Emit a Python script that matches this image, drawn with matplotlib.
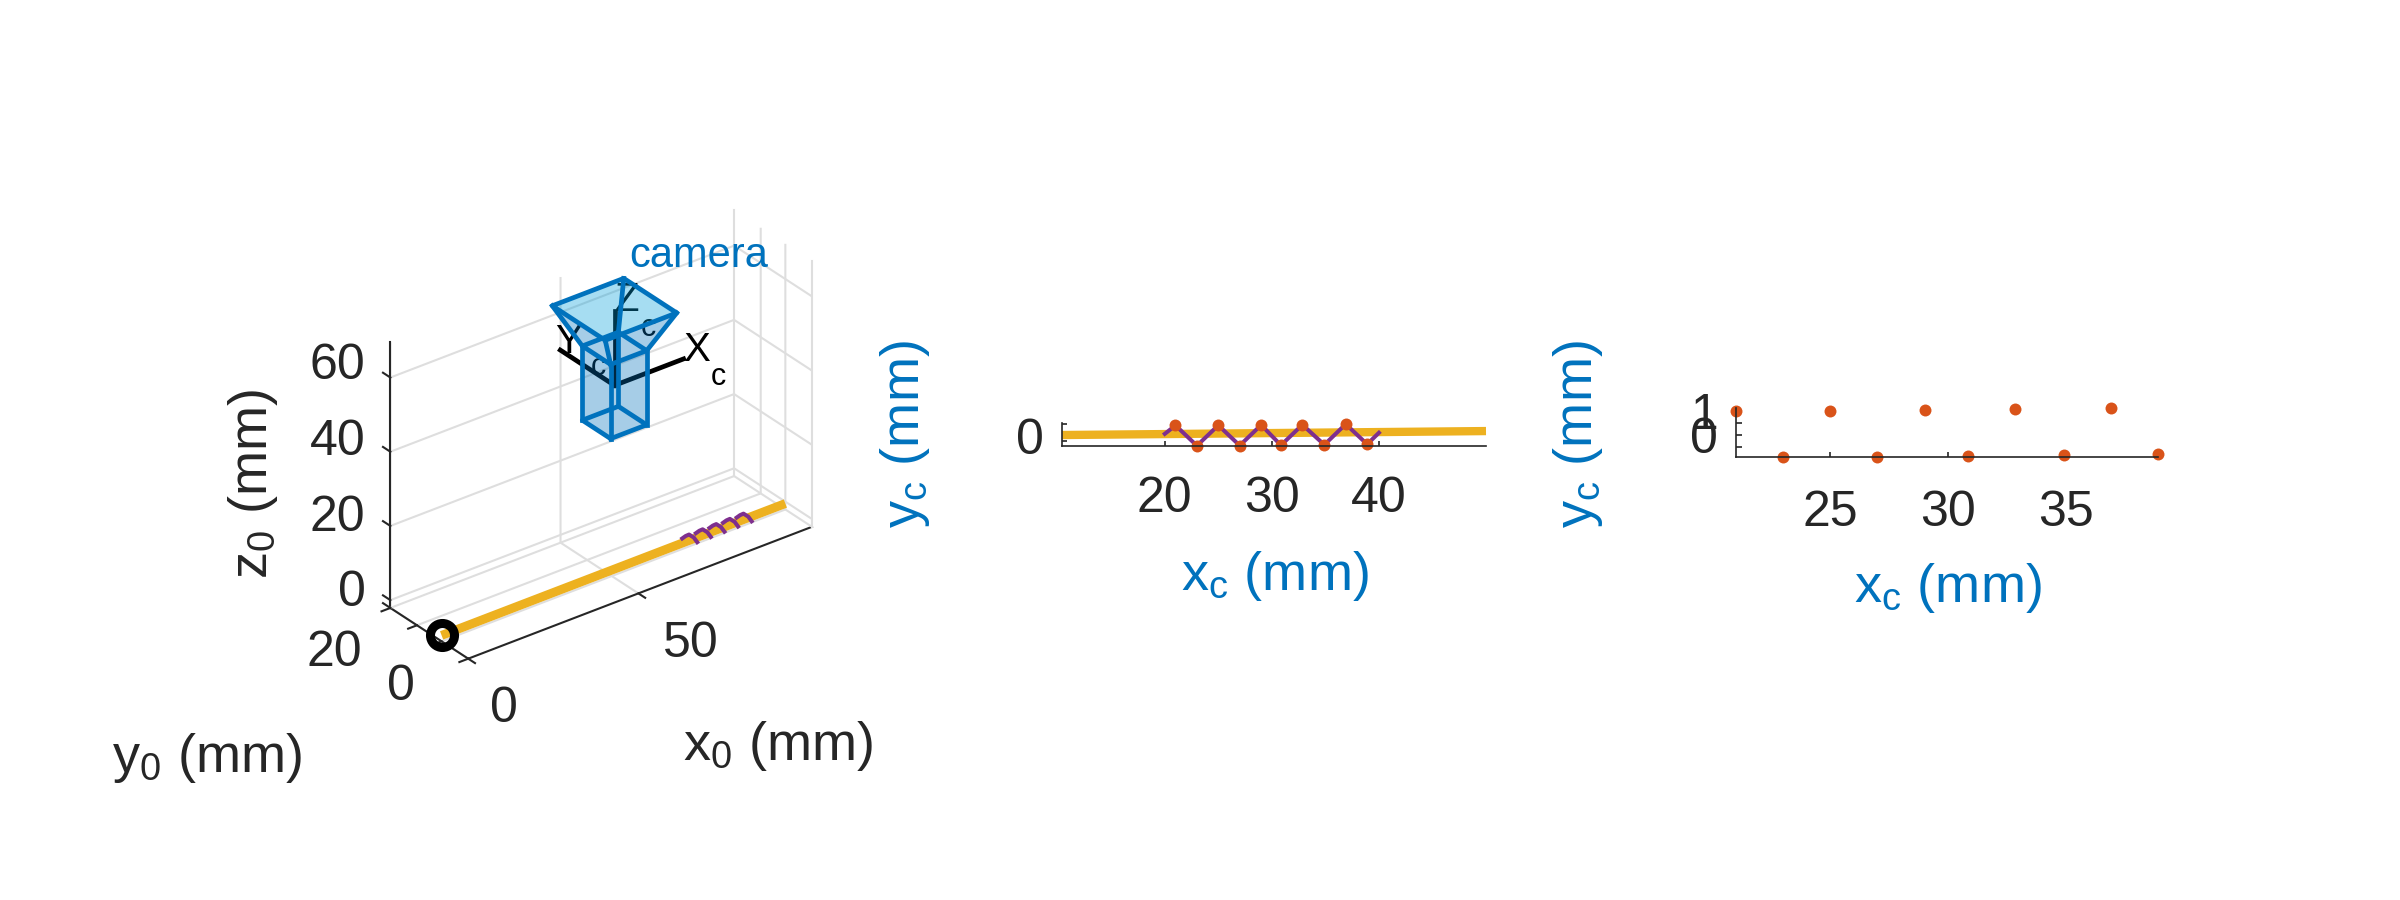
import numpy as np
import matplotlib
matplotlib.use('Agg')
import matplotlib.pyplot as plt
from mpl_toolkits.mplot3d.art3d import Poly3DCollection

plt.rcParams['font.family'] = ['Liberation Sans', 'DejaVu Sans']
plt.rcParams['mathtext.fontset'] = 'custom'
plt.rcParams['mathtext.rm'] = 'Liberation Sans'
plt.rcParams['mathtext.it'] = 'Liberation Sans'

BLUE = '#0072BD'
YELLOW = '#EDB120'
PURPLE = '#7E2F8E'
ORANGE = '#D95319'
DARK = '#262626'
GRID = '#DEDEDE'
W, H = 2400, 900

# straight line in the world frame and in the camera frame
line_x0 = [0, 101]
line_y0 = [0, 0]
line_z0 = [-0.5, -0.5]
line_xc = [10.4, 50]
line_yc = [0.09, 0.46]

# visible arcs of the helix round the line, world frame
helix_x0 = [[70.7, 71.7, 72.7, 74.1, 75.1],
            [74.7, 75.7, 76.7, 78.1, 79.1],
            [78.7, 79.7, 80.7, 82.1, 83.1],
            [82.7, 83.7, 84.7, 86.1, 87.1],
            [86.7, 87.7, 88.7, 90.1, 91.1]]
helix_z0 = [0.75, 1.05, 1.1, -0.2, -1.8]

# zigzag and its sampled points in the camera frame
zig_xc = [20, 21.0, 23.0, 25.0, 27.0, 29.0, 30.85, 32.85, 34.9, 36.9, 38.9, 40]
zig_yc = [0.2, 0.99, -0.905, 1.0, -0.89, 1.03, -0.865, 1.05, -0.82, 1.11, -0.77, 0.3]
pts_xc = zig_xc[1:-1]
pts_yc = zig_yc[1:-1]

# camera, world frame
body_x = [45.5, 56.1]
body_y = [-11.5, 11.5]
body_z = [39, 59]
top_x = [40.3, 61.3]
top_y = [-21.5, 21.5]
top_z = 69.5
frame_origin = [50.8, 0, 49]
frame_x_end = 71.1
frame_y_end = 44
frame_z_end = 69

# limits and ticks of the scene
x_lim = (0, 101)
y_lim = (-21.6, 41.6)
z_lim = (-2.1, 69.5)
x_ticks = [0, 50]
y_ticks = [0, 20]
z_ticks = [0, 20, 40, 60]


def px_text(x, y, s, **kw):
    return fig.text(x / W, 1 - y / H, s, ha=kw.pop('ha', 'center'), va=kw.pop('va', 'center'), **kw)


fig = plt.figure(figsize=(W / 100, H / 100), dpi=100, facecolor='white')

# ---- 3D scene ----
ax = fig.add_axes([139 / W, 3.3 / H, 900 / W, 1], projection='3d', proj_type='ortho', computed_zorder=False)
ax.set_box_aspect((433.6, 128, 307), zoom=0.589)
ax.view_init(elev=30, azim=-127.5)
ax.set_xlim(*x_lim, view_margin=0)
ax.set_ylim(*y_lim, view_margin=0)
ax.set_zlim(*z_lim, view_margin=0)
ax.patch.set_alpha(0)
ax.set_xticks(x_ticks)
ax.set_yticks(y_ticks)
ax.set_zticks(z_ticks)
ax.set_xticklabels([])
ax.set_yticklabels([])
ax.set_zticklabels([])
for axis in (ax.xaxis, ax.yaxis, ax.zaxis):
    axis.set_pane_color((1, 1, 1, 0))
    axis.pane.set_edgecolor('none')
    axis.line.set_color(DARK)
    axis.line.set_linewidth(1.5)
    axis.label.set_visible(False)
    axis.offsetText.set_visible(False)
    axis._axinfo['grid']['color'] = GRID
    axis._axinfo['grid']['linewidth'] = 1.5
    axis._axinfo['tick']['inward_factor'] = 0
    axis._axinfo['tick']['outward_factor'] = 0

x0, x1_lim = x_lim
y0, y1_lim = y_lim
z0, z1_lim = z_lim

# wall corners and floor edges
wall_style = dict(color=GRID, lw=1.5, zorder=1)
ax.plot([x1_lim, x1_lim], [y1_lim, y1_lim], [z0, z1_lim], **wall_style)
ax.plot([x1_lim, x1_lim], [y0, y0], [z0, z1_lim], **wall_style)
ax.plot([x0, x1_lim], [y1_lim, y1_lim], [z0, z0], **wall_style)
ax.plot([x1_lim, x1_lim], [y0, y1_lim], [z0, z0], **wall_style)

# short outward ticks, also at the box corners
tick_style = dict(color=DARK, lw=1.5, zorder=1.5)
for t in x_ticks:
    ax.plot([t, t], [y0, y0 - 5.5], [z0, z0], **tick_style)
for t in [y0] + y_ticks + [y1_lim]:
    ax.plot([x0, x0 - 2.6], [t, t], [z0, z0], **tick_style)
for t in [z0] + z_ticks:
    ax.plot([x0, x0], [y1_lim, y1_lim + 6], [t, t], **tick_style)

ax.plot(line_x0, line_y0, line_z0, color=YELLOW, lw=6.4, solid_capstyle='butt', zorder=2)
for arc_x in helix_x0:
    ax.plot(arc_x, [0] * len(arc_x), helix_z0, color=PURPLE, lw=2.9, zorder=2.5)
ax.plot(line_x0[:1], line_y0[:1], line_z0[:1], 'o', ms=17.3, mfc='none', mec='black', mew=6.5, zorder=2.8)

ox, oy, oz = frame_origin
ax.plot([ox, frame_x_end], [oy, oy], [oz, oz], color='black', lw=3.4, zorder=3)
ax.plot([ox, ox], [oy, frame_y_end], [oz, oz], color='black', lw=3.4, zorder=3)
ax.plot([ox, ox], [oy, oy], [oz, frame_z_end], color='black', lw=3.4, zorder=3)
# frame names sit under the see-through camera, subscripts far below as in the original
for tx, ty, s, size in [(697, 350, 'X', 29), (718, 377, 'c', 22),
                        (569, 342, 'Y', 29), (598, 367, 'c', 22),
                        (627, 300, 'Z', 29), (648, 328, 'c', 22)]:
    ax.text2D(tx / W, 1 - ty / H, s, transform=fig.transFigure, fontsize=size, color='black',
              ha='center', va='center', zorder=3)

x1, x2 = body_x
y1, y2 = body_y
z1, z2 = body_z
a1, a2 = top_x
b1, b2 = top_y
front_faces = [
    [(x1, y1, z1), (x2, y1, z1), (x2, y1, z2), (x1, y1, z2)],
    [(x1, y1, z1), (x1, y2, z1), (x1, y2, z2), (x1, y1, z2)],
    [(x1, y1, z2), (x2, y1, z2), (a2, b1, top_z), (a1, b1, top_z)],
    [(x1, y1, z2), (x1, y2, z2), (a1, b2, top_z), (a1, b1, top_z)],
]
ax.add_collection3d(Poly3DCollection(front_faces, facecolor=BLUE, edgecolor='none', alpha=0.35, zorder=4))
top_face = [[(a1, b1, top_z), (a2, b1, top_z), (a2, b2, top_z), (a1, b2, top_z)]]
ax.add_collection3d(Poly3DCollection(top_face, facecolor='#009EDB', edgecolor='none', alpha=0.35, zorder=4))

corners = [(x1, y1), (x2, y1), (x2, y2), (x1, y2), (x1, y1)]
open_corners = [(a1, b1), (a2, b1), (a2, b2), (a1, b2), (a1, b1)]
edge_style = dict(color=BLUE, lw=3.4, zorder=5, solid_joinstyle='round')
ax.plot([c[0] for c in corners], [c[1] for c in corners], [z1] * 5, **edge_style)
ax.plot([c[0] for c in corners], [c[1] for c in corners], [z2] * 5, **edge_style)
ax.plot([c[0] for c in open_corners], [c[1] for c in open_corners], [top_z] * 5, **edge_style)
for (cx, cy), (dx, dy) in zip(corners[:4], open_corners[:4]):
    ax.plot([cx, cx], [cy, cy], [z1, z2], **edge_style)
    ax.plot([cx, dx], [cy, dy], [z2, top_z], **edge_style)

# tick and axis labels of the scene
tick_size = 36
for x, y, s in [(337.5, 366, '60'), (337.5, 442, '40'), (337.5, 518, '20'), (352, 593, '0'),
                (334, 653, '20'), (401, 687, '0'), (504, 709, '0'), (691, 644, '50')]:
    px_text(x, y, s, fontsize=tick_size, color=DARK)
px_text(699, 256, 'camera', fontsize=30, color=BLUE)
px_text(253, 484, r'z$_{\mathrm{0}}$ (mm)', fontsize=39, color=DARK, rotation=90)
px_text(207, 758, r'y$_{\mathrm{0}}$ (mm)', fontsize=39, color=DARK)
px_text(778, 746, r'x$_{\mathrm{0}}$ (mm)', fontsize=39, color=DARK)

# ---- middle panel ----
ax2 = fig.add_axes([1062 / W, 1 - 445.7 / H, 424 / W, 23 / H])
ax2.plot(line_xc, line_yc, color=YELLOW, lw=6, solid_capstyle='butt', clip_on=False)
ax2.plot(zig_xc, zig_yc, color=PURPLE, lw=2.9, clip_on=False)
ax2.plot(pts_xc, pts_yc, 'o', color=ORANGE, ms=8.6, mec='none', clip_on=False)
ax2.set_xlim(10.4, 50)
ax2.set_ylim(-0.905, 1.24)
ax2.set_xticks([20, 30, 40])
ax2.set_yticks([0])
ax2.set_yticks([-0.47, 0.33, 1.16], minor=True)
ax2.tick_params(axis='x', direction='in', length=3.6, width=1.2, color=DARK, labelcolor=DARK,
                labelsize=tick_size, pad=22)
ax2.tick_params(axis='y', which='major', length=0, labelcolor=DARK, labelsize=tick_size, pad=13)
ax2.tick_params(axis='y', which='minor', direction='in', length=3.6, width=1.2, color=DARK)

# ---- right panel ----
ax3 = fig.add_axes([1736 / W, 1 - 457 / H, 422 / W, 49 / H])
ax3.plot(pts_xc, pts_yc, 'o', color=ORANGE, ms=8.6, mec='none', clip_on=False)
ax3.set_xlim(21, 38.9)
ax3.set_ylim(-0.905, 1.11)
ax3.set_xticks([25, 30, 35])
ax3.set_yticks([0, 1])
ax3.set_yticks([-0.5, 0.5], minor=True)
ax3.tick_params(axis='x', direction='in', length=3.6, width=1.2, color=DARK, labelcolor=DARK,
                labelsize=tick_size, pad=24)
ax3.tick_params(axis='y', which='major', direction='in', length=4, width=1.2, color=DARK,
                labelcolor=DARK, labelsize=tick_size, pad=13)
ax3.tick_params(axis='y', which='minor', direction='in', length=4, width=1.2, color=DARK)

for a in (ax2, ax3):
    a.patch.set_alpha(0)
    a.spines['top'].set_visible(False)
    a.spines['right'].set_visible(False)
    a.spines['left'].set_color(DARK)
    a.spines['bottom'].set_color(DARK)
    a.spines['left'].set_linewidth(1.2)
    a.spines['bottom'].set_linewidth(1.2)

px_text(905, 434, r'y$_{\mathrm{c}}$ (mm)', fontsize=39, color=BLUE, rotation=90)
px_text(1578, 434, r'y$_{\mathrm{c}}$ (mm)', fontsize=39, color=BLUE, rotation=90)
px_text(1275, 576, r'x$_{\mathrm{c}}$ (mm)', fontsize=39, color=BLUE)
px_text(1948, 588, r'x$_{\mathrm{c}}$ (mm)', fontsize=39, color=BLUE)

fig.savefig('out.png', dpi=100)
